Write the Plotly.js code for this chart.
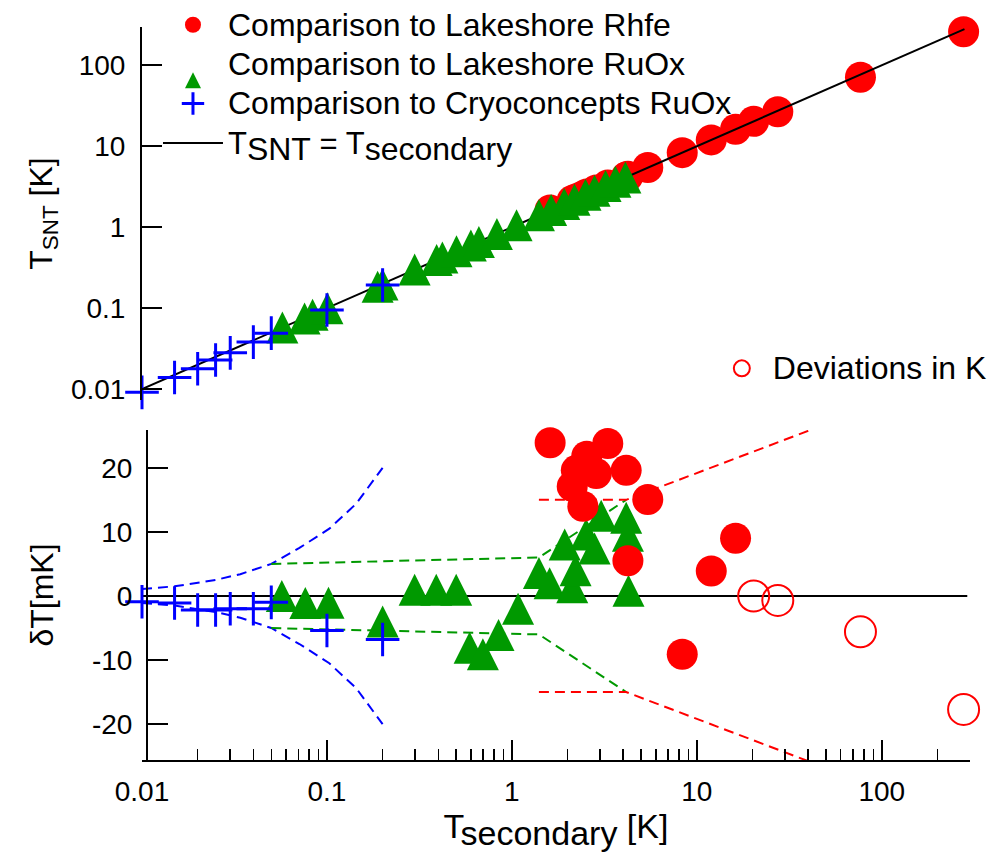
<!DOCTYPE html>
<html>
<head>
<meta charset="utf-8">
<script src="https://cdn.plot.ly/plotly-3.0.1.min.js"></script>
<style>html,body{margin:0;padding:0;background:#fff;}#chart{width:991px;height:855px;}</style>
</head>
<body>
<div id="chart"></div>
<script>
// ---------- data ----------
// Comparison to Lakeshore RhFe
const rhfeTsec = [1.61, 2.12, 2.23, 2.42, 2.54, 2.86, 3.30, 4.15, 4.24, 5.43, 8.34, 11.97, 16.2, 20.3, 27.4, 76.7, 277];
const rhfeTsnt = [1.63, 2.14, 2.25, 2.43, 2.56, 2.88, 3.32, 4.17, 4.25, 5.45, 8.33, 11.97, 16.2, 20.3, 26.7, 71.1, 259];
const rhfeDevTsec = [1.61, 2.12, 2.23, 2.42, 2.54, 2.86, 3.30, 4.15, 4.24, 5.43, 8.34, 11.97, 16.2];
const rhfeDevMK   = [23.9, 17.1, 19.6, 14.0, 21.8, 19.1, 23.8, 19.6, 5.5, 15.05, -9.1, 3.9, 9.0];
const rhfeDevKTsec = [20.3, 27.4, 76.7, 277];
const rhfeDevK     = [0.0, -0.7, -5.6, -17.7];

// Comparison to Lakeshore RuOx
const ruoxTsec = [0.0574, 0.0757, 0.0836, 0.1006, 0.188, 0.1997, 0.298, 0.392, 0.421, 0.502, 0.60, 0.663, 0.83, 1.06, 1.40, 1.63, 1.92, 2.18, 2.50, 2.80, 3.21, 3.63, 4.11];
const ruoxTsnt = [0.0574, 0.0746, 0.0826, 0.0996, 0.184, 0.1957, 0.299, 0.393, 0.421, 0.503, 0.592, 0.654, 0.824, 1.058, 1.404, 1.632, 1.928, 2.184, 2.51, 2.807, 3.22, 3.64, 4.12];
const ruoxDevTsec = [0.057, 0.0764, 0.102, 0.2, 0.298, 0.39, 0.5, 0.591, 0.697, 0.847, 1.08, 1.40, 1.60, 1.93, 2.12, 2.21, 2.52, 2.80, 3.04, 4.15, 4.24, 4.27];
const ruoxDevMK   = [0.0, -1.1, -1.05, -4.0, 0.95, 0.95, 0.95, -8.1, -9.1, -6.1, -2.0, 3.6, 2.0, 8.05, 1.35, 4.0, 9.6, 7.4, 12.5, 12.2, 9.4, 0.8];

// Comparison to Cryoconcepts RuOx
const cryoTsec  = [0.01, 0.015, 0.02, 0.025, 0.03, 0.04, 0.05, 0.1, 0.2];
const cryoTsnt  = [0.0091, 0.0139, 0.0178, 0.0228, 0.028, 0.038, 0.049, 0.0946, 0.193];
const cryoDevMK = [-0.9, -1.1, -2.2, -2.2, -2.0, -2.0, -1.0, -5.4, -6.8];

// T_SNT = T_secondary reference line and zero line
const identityX = [0.01, 280];
const identityY = [0.01, 280];
const zeroX = [0.01, 290];
const zeroY = [0, 0];

// uncertainty bands (dashed)
const blueBandX  = [0.01, 0.015, 0.025, 0.034, 0.05, 0.071, 0.103, 0.144, 0.2];
const blueBandUp = [1.1, 1.5, 2.5, 3.4, 5.0, 7.5, 10.5, 14.4, 20];
const blueBandLo = [-1.1, -1.5, -2.5, -3.4, -5.0, -7.5, -10.5, -14.4, -20];
const greenBandX  = [0.05, 1.4, 4.15];
const greenBandUp = [5.0, 6.0, 15.0];
const greenBandLo = [-5.0, -6.0, -15.0];
const redBandX  = [1.4, 4.15, 42];
const redBandUp = [15, 15, 26];
const redBandLo = [-15, -15, -26];

// ticks
const xTickVals = [0.01, 0.1, 1, 10, 100];
const xTickText = ['0.01', '0.1', '1', '10', '100'];
const xMinorVals = [0.02,0.03,0.04,0.05,0.06,0.07,0.08,0.09,0.2,0.3,0.4,0.5,0.6,0.7,0.8,0.9,2,3,4,5,6,7,8,9,20,30,40,50,60,70,80,90,200,300];
const yTopTickVals = [0.01, 0.1, 1, 10, 100];
const yTopTickText = ['0.01', '0.1', '1', '10', '100'];
const yBotTickVals = [-20, -10, 0, 10, 20];
const yBotTickText = ['-20', '-10', '0', '10', '20'];

// legend labels
const nameRhfe = 'Comparison to Lakeshore Rhfe';
const nameRuox = 'Comparison to Lakeshore RuOx';
const nameCryo = 'Comparison to Cryoconcepts RuOx';
const nameDevK = 'Deviations in K';

// ---------- styles ----------
const FONT = 'Liberation Sans, Arial, Helvetica, sans-serif';
const RED = '#ff0000', GREEN = '#009900', BLUE = '#0000ff';
const TRI = {symbol: 'arrow-down', angle: 180, size: 32, standoff: 16, color: GREEN};
const CIRC = {symbol: 'circle', size: 31, color: RED};
const PLUS = {symbol: 'cross-thin', size: 24, color: BLUE, line: {color: BLUE, width: 3}};
const dash = '10px,6px';
const big = s => '<span style="font-size:32px">' + s + '</span>';

const data = [
  // bottom panel: bands
  {x: blueBandX, y: blueBandUp, xaxis: 'x', yaxis: 'y', mode: 'lines', line: {color: BLUE, width: 2, dash: dash}, showlegend: false, hoverinfo: 'skip'},
  {x: blueBandX, y: blueBandLo, xaxis: 'x', yaxis: 'y', mode: 'lines', line: {color: BLUE, width: 2, dash: dash}, showlegend: false, hoverinfo: 'skip'},
  {x: greenBandX, y: greenBandUp, xaxis: 'x', yaxis: 'y', mode: 'lines', line: {color: GREEN, width: 2, dash: dash}, showlegend: false, hoverinfo: 'skip'},
  {x: greenBandX, y: greenBandLo, xaxis: 'x', yaxis: 'y', mode: 'lines', line: {color: GREEN, width: 2, dash: dash}, showlegend: false, hoverinfo: 'skip'},
  {x: redBandX, y: redBandUp, xaxis: 'x', yaxis: 'y', mode: 'lines', line: {color: RED, width: 2, dash: dash}, showlegend: false, hoverinfo: 'skip'},
  {x: redBandX, y: redBandLo, xaxis: 'x', yaxis: 'y', mode: 'lines', line: {color: RED, width: 2, dash: dash}, showlegend: false, hoverinfo: 'skip'},
  {x: zeroX, y: zeroY, xaxis: 'x', yaxis: 'y', mode: 'lines', line: {color: '#000', width: 2}, showlegend: false, hoverinfo: 'skip'},
  // bottom panel: deviations
  {x: ruoxDevTsec, y: ruoxDevMK, xaxis: 'x', yaxis: 'y', mode: 'markers', marker: TRI, cliponaxis: false, showlegend: false, name: 'RuOx dev'},
  {x: rhfeDevTsec, y: rhfeDevMK, xaxis: 'x', yaxis: 'y', mode: 'markers', marker: CIRC, cliponaxis: false, showlegend: false, name: 'Rhfe dev'},
  {x: cryoTsec, y: cryoDevMK, xaxis: 'x', yaxis: 'y', mode: 'markers', marker: PLUS, cliponaxis: false, showlegend: false, name: 'Cryo dev'},
  {x: rhfeDevKTsec, y: rhfeDevK, xaxis: 'x', yaxis: 'y', mode: 'markers', name: big(nameDevK), legend: 'legend2',
   marker: {symbol: 'circle-open', size: 31, color: RED, line: {color: RED, width: 2}}, cliponaxis: false},
  // top panel
  {x: rhfeTsec, y: rhfeTsnt, xaxis: 'x', yaxis: 'y2', mode: 'markers', marker: CIRC, cliponaxis: false, name: big(nameRhfe), legendrank: 1},
  {x: identityX, y: identityY, xaxis: 'x', yaxis: 'y2', mode: 'lines', line: {color: '#000', width: 2},
   name: '<span style="font-size:31px">T<sub><span style="font-size:32px">SNT</span></sub> = T<sub><span style="font-size:32px">secondary</span></sub></span>', legendrank: 4},
  {x: ruoxTsec, y: ruoxTsnt, xaxis: 'x', yaxis: 'y2', mode: 'markers', marker: TRI, cliponaxis: false, showlegend: false, name: 'RuOx'},
  {x: [null], y: [null], xaxis: 'x', yaxis: 'y2', mode: 'markers', marker: {symbol: 'arrow-down', angle: 180, size: 16, standoff: 8, color: GREEN}, name: big(nameRuox), legendrank: 2},
  {x: cryoTsec, y: cryoTsnt, xaxis: 'x', yaxis: 'y2', mode: 'markers', marker: PLUS, cliponaxis: false, name: big(nameCryo), legendrank: 3}
];

const axisCommon = {showline: true, linewidth: 2, linecolor: '#000', ticks: 'inside', ticklen: 20, tickwidth: 2, tickcolor: '#000', showgrid: false, zeroline: false, automargin: false, tickfont: {size: 28, family: FONT, color: '#000'}};

const layout = {
  width: 991, height: 855,
  margin: {l: 142, r: 21, t: 27, b: 95, autoexpand: false},
  paper_bgcolor: '#ffffff', plot_bgcolor: 'rgba(0,0,0,0)',
  font: {family: FONT, size: 28, color: '#000'},
  hovermode: false,
  xaxis: Object.assign({}, axisCommon, {
    type: 'log', range: [-2, Math.log10(300)], domain: [0, 1], anchor: 'y',
    tickmode: 'array', tickvals: xTickVals, ticktext: xTickText, ticklabelstandoff: 5,
    minor: {tickmode: 'array', tickvals: xMinorVals, ticks: 'inside', ticklen: 11, tickwidth: 1.5, tickcolor: '#000', showgrid: false},
    title: {text: 'T<sub><span style="font-size:34px">secondary</span></sub> [K]', font: {size: 34, family: FONT}, standoff: 3}
  }),
  yaxis: Object.assign({}, axisCommon, {
    domain: [0, 0.4502], anchor: 'free', position: 0.006, range: [-25.6, 25.9],
    tickmode: 'array', tickvals: yBotTickVals, ticktext: yBotTickText, ticklabelstandoff: 8,
    title: {text: 'δT[mK]', font: {size: 32, family: FONT}, standoff: 28}
  }),
  yaxis2: Object.assign({}, axisCommon, {
    type: 'log', domain: [0.4911, 1], anchor: 'x', range: [-2.136, 2.473],
    tickmode: 'array', tickvals: yTopTickVals, ticktext: yTopTickText, ticklabelstandoff: 9,
    title: {text: 'T<sub>SNT</sub> [K]', font: {size: 32, family: FONT}, standoff: 9}
  }),
  legend: {x: 0.0193, y: 1.0368, xanchor: 'left', yanchor: 'top', bgcolor: 'rgba(0,0,0,0)', borderwidth: 0,
           font: {size: 28, family: FONT, color: '#000'}, itemwidth: 60, traceorder: 'normal'},
  legend2: {x: 0.687, y: 0.568, xanchor: 'left', yanchor: 'top', bgcolor: 'rgba(0,0,0,0)', borderwidth: 0,
            font: {size: 28, family: FONT, color: '#000'}, itemwidth: 52}
};

Plotly.newPlot('chart', data, layout, {displayModeBar: false, staticPlot: true});
</script>
</body>
</html>
